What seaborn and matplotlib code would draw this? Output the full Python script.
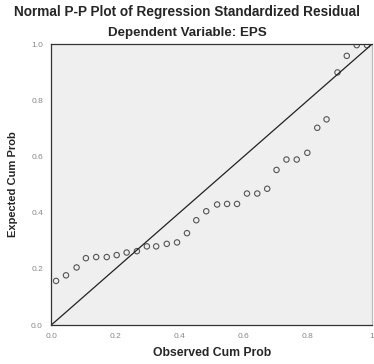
import seaborn as sns
import matplotlib.pyplot as plt
import pandas as pd

# observed vs expected cumulative probabilities
observed = [0.015, 0.046, 0.079, 0.108, 0.140, 0.173, 0.204, 0.235, 0.267, 0.298,
            0.327, 0.360, 0.392, 0.423, 0.452, 0.483, 0.517, 0.548, 0.579, 0.610,
            0.642, 0.673, 0.702, 0.733, 0.765, 0.798, 0.829, 0.858, 0.892, 0.921,
            0.952, 0.984]
expected = [0.157, 0.177, 0.205, 0.238, 0.242, 0.242, 0.249, 0.258, 0.263, 0.280,
            0.280, 0.289, 0.294, 0.327, 0.373, 0.405, 0.429, 0.431, 0.431, 0.468,
            0.468, 0.485, 0.552, 0.589, 0.589, 0.613, 0.702, 0.732, 0.899, 0.958,
            0.996, 0.996]
ref_line = [0.0, 1.0]
ticks = [0.0, 0.2, 0.4, 0.6, 0.8, 1.0]
x_tick_labels = ["0.0", "0.2", "0.4", "0.6", "0.8", "1"]
y_tick_labels = ["0.0", "0.2", "0.4", "0.6", "0.8", "1.0"]

df = pd.DataFrame({"Observed Cum Prob": observed, "Expected Cum Prob": expected})

sns.set_style("white")
plt.rcParams['font.family'] = ['Liberation Sans', 'DejaVu Sans']

fig = plt.figure(figsize=(3.74, 3.64), dpi=100)
ax = fig.add_axes([0.137, 0.107, 0.858, 0.772])
ax.set_facecolor("#efefef")

sns.lineplot(x=ref_line, y=ref_line, ax=ax, color="#222222", linewidth=0.9)
sns.scatterplot(data=df, x="Observed Cum Prob", y="Expected Cum Prob", ax=ax,
                marker="o", s=15, facecolor="none", edgecolor="#555555", linewidth=0.8)

ax.set_xlim(0, 1)
ax.set_ylim(0, 1)
ax.set_xticks(ticks)
ax.set_xticklabels(x_tick_labels)
ax.set_yticks(ticks)
ax.set_yticklabels(y_tick_labels)
ax.tick_params(axis="both", direction="out", length=4, width=0.8, color="#333333",
               labelsize=6, labelcolor="#888888", pad=2)
for side in ["left", "bottom", "top", "right"]:
    ax.spines[side].set_color("#333333")
    ax.spines[side].set_linewidth(0.9)
ax.spines["right"].set_color("#bbbbbb")

ax.set_xlabel("Observed Cum Prob", fontsize=8.8, fontweight="bold", labelpad=5)
ax.set_ylabel("Expected Cum Prob", fontsize=8, fontweight="bold")
ax.yaxis.set_label_coords(-0.103, 0.5)

fig.text(0.5, 0.966, "Normal P-P Plot of Regression Standardized Residual",
         ha="center", va="center", fontsize=9.8, fontweight="bold")
fig.text(0.5, 0.908, "Dependent Variable: EPS",
         ha="center", va="center", fontsize=9.6, fontweight="bold")

fig.savefig("out.png", dpi=100)
